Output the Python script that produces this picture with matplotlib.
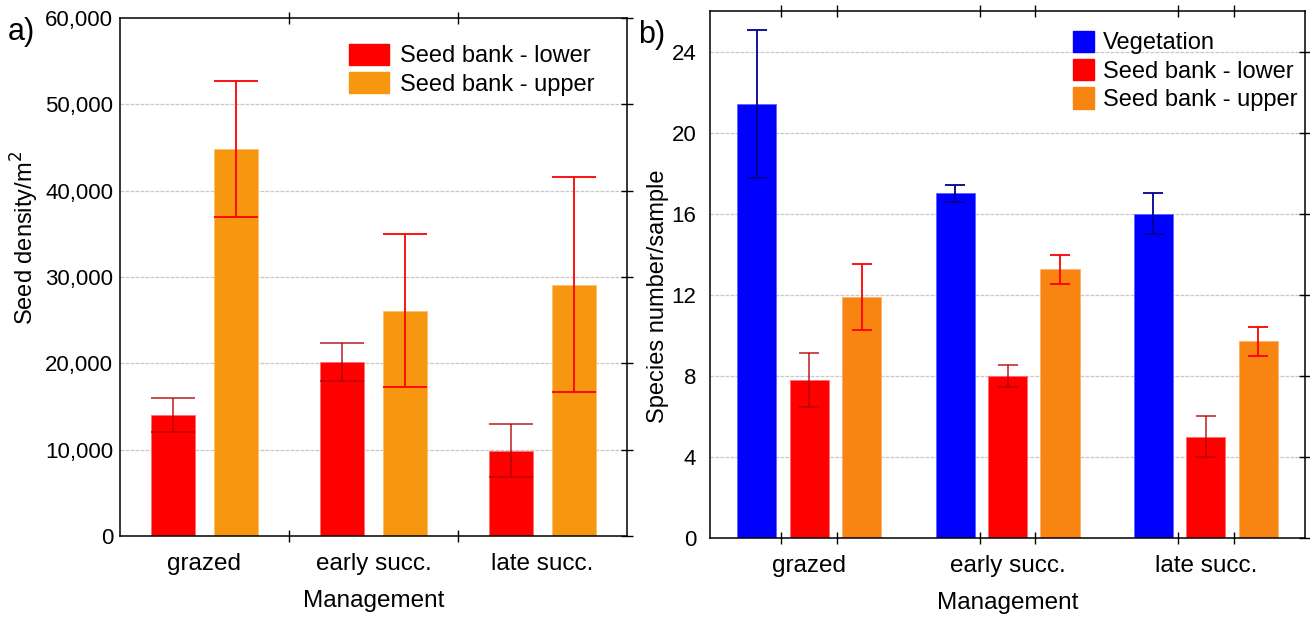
import numpy as np
import matplotlib.pyplot as plt
from matplotlib.ticker import FixedLocator, FuncFormatter
from matplotlib.patches import Patch

plt.rcParams['font.family'] = ['Liberation Sans', 'DejaVu Sans']

groups = ['grazed', 'early succ.', 'late succ.']

# a) seed density (mean and SE per m2)
dens_lower = [14000, 20200, 9900]
dens_lower_err = [1950, 2200, 3050]
dens_upper = [44800, 26100, 29100]
dens_upper_err = [7900, 8850, 12450]

# b) species richness per sample
veg_rich = [21.4, 17.0, 16.0]
veg_rich_err = [3.65, 0.42, 1.0]
low_rich = [7.8, 8.0, 5.0]
low_rich_err = [1.32, 0.53, 1.0]
up_rich = [11.9, 13.25, 9.7]
up_rich_err = [1.62, 0.72, 0.71]

BLUE = '#0000ff'
RED = '#ff0000'
ORANGE_A = '#f7970f'
ORANGE_B = '#f88512'

FS = 16      # y tick labels
FS_X = 17.5  # category labels and axis titles


def frame(ax, ymax, yticks, xminor, ypad):
    ax.set_xlim(-0.5, 2.5)
    ax.set_ylim(0, ymax)
    ax.set_xticks(range(len(groups)))
    ax.set_xticklabels(groups, fontsize=FS_X)
    ax.xaxis.set_minor_locator(FixedLocator(xminor))
    ax.tick_params(axis='x', which='major', length=0, pad=12)
    ax.tick_params(axis='x', which='minor', direction='inout', length=8,
                   top=True, bottom=True, width=1)
    ax.set_yticks(yticks)
    ax.tick_params(axis='y', left=False, right=True, direction='inout',
                   length=8, width=1, labelsize=FS, pad=ypad)
    ax.set_axisbelow(True)
    for y in yticks[1:]:
        if y < ymax:
            ax.axhline(y, color='#c8c8c8', lw=0.9, ls=(0, (3, 1)), zorder=0)
    for s in ax.spines.values():
        s.set_linewidth(1.1)
    ax.set_xlabel('Management', fontsize=FS_X, labelpad=11)


fig = plt.figure(figsize=(13.1, 6.17), dpi=100)
ax1 = fig.add_axes([0.0916, 0.1313, 0.3870, 0.8395])
ax2 = fig.add_axes([0.5420, 0.1280, 0.4542, 0.8542])

# --- a) seed density ---
x = np.arange(len(groups))
wa, off_a = 0.258, 0.187
ax1.bar(x - off_a, dens_lower, wa, color=RED, edgecolor='#ff7070', lw=0.6, zorder=2)
ax1.bar(x + off_a, dens_upper, wa, color=ORANGE_A, edgecolor='#fbc070', lw=0.6, zorder=2)
ax1.errorbar(x - off_a, dens_lower, yerr=dens_lower_err, fmt='none', ecolor='#b00000',
             alpha=0.75, elinewidth=1.3, capsize=15.7, capthick=1.3, zorder=3)
ax1.errorbar(x + off_a, dens_upper, yerr=dens_upper_err, fmt='none', ecolor=RED,
             elinewidth=1.3, capsize=15.7, capthick=1.3, zorder=3)
frame(ax1, 60000, list(range(0, 60001, 10000)), [0.5, 1.5], ypad=1)
ax1.yaxis.set_major_formatter(FuncFormatter(lambda v, p: f'{int(v):,}'))
ax1.set_ylabel('Seed density/m$^2$', fontsize=17)
ax1.yaxis.set_label_coords(-0.156, 0.575)
ax1.legend(handles=[Patch(color=RED, label='Seed bank - lower'),
                    Patch(color=ORANGE_A, label='Seed bank - upper')],
           loc='upper left', bbox_to_anchor=(0.428, 0.973), frameon=False,
           fontsize=17, handlelength=1.7, handleheight=1.0,
           handletextpad=0.45, labelspacing=0.2, borderpad=0)
fig.text(0.006, 0.948, 'a)', fontsize=22, va='center')

# --- b) species number ---
wb, off_b = 0.198, 0.264
ax2.bar(x - off_b, veg_rich, wb, color=BLUE, edgecolor='#6060ff', lw=0.6, zorder=2)
ax2.bar(x, low_rich, wb, color=RED, edgecolor='#ff7070', lw=0.6, zorder=2)
ax2.bar(x + off_b, up_rich, wb, color=ORANGE_B, edgecolor='#fbb070', lw=0.6, zorder=2)
ax2.errorbar(x - off_b, veg_rich, yerr=veg_rich_err, fmt='none', ecolor='#000090',
             elinewidth=1.3, capsize=7.4, capthick=1.3, zorder=3)
ax2.errorbar(x, low_rich, yerr=low_rich_err, fmt='none', ecolor='#b00000',
             alpha=0.75, elinewidth=1.3, capsize=7.4, capthick=1.3, zorder=3)
ax2.errorbar(x + off_b, up_rich, yerr=up_rich_err, fmt='none', ecolor=RED,
             elinewidth=1.3, capsize=7.4, capthick=1.3, zorder=3)
minor_b = [g + d for g in range(len(groups)) for d in (-0.14, 0.14)]
frame(ax2, 26, list(range(0, 25, 4)), minor_b, ypad=6)
ax2.set_ylabel('Species number/sample', fontsize=17)
ax2.yaxis.set_label_coords(-0.069, 0.459)
ax2.legend(handles=[Patch(color=BLUE, label='Vegetation'),
                    Patch(color=RED, label='Seed bank - lower'),
                    Patch(color=ORANGE_B, label='Seed bank - upper')],
           loc='upper left', bbox_to_anchor=(0.59, 0.985), frameon=False,
           fontsize=17, handlelength=0.88, handleheight=1.0,
           handletextpad=0.4, labelspacing=0.2, borderpad=0)
fig.text(0.487, 0.943, 'b)', fontsize=22, va='center')

fig.savefig('out.png', dpi=100)
